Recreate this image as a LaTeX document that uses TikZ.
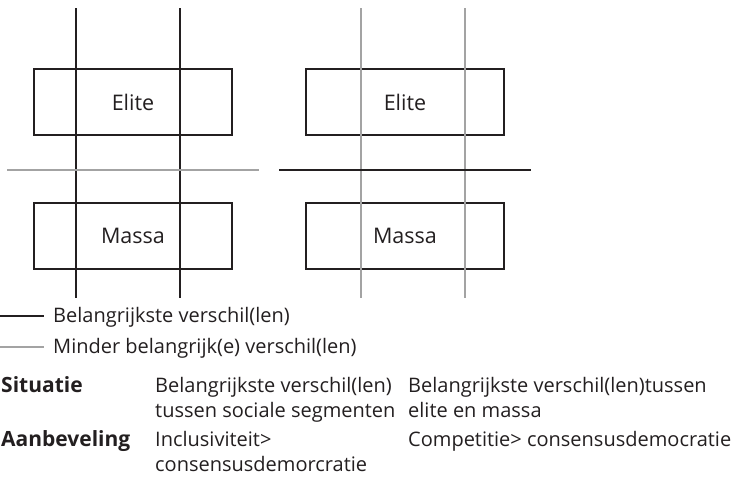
\documentclass[tikz,border=0pt]{standalone}
\usepackage{fontspec}
\setmainfont{Open Sans}
\usetikzlibrary{positioning}

\definecolor{ink}{HTML}{231F20}
\definecolor{lichtgrijs}{HTML}{A3A3A3}

\begin{document}
\begin{tikzpicture}[x=1pt,y=-1pt,
	laag/.style={draw=ink,line width=1.1pt,minimum width=198pt,minimum height=66pt,
		inner sep=0pt,font=\fontsize{21.5}{25}\selectfont,text=ink},
	hoofd/.style={draw=ink,line width=1.1pt},
	neven/.style={draw=lichtgrijs,line width=1.1pt},
	tekst/.style={anchor=base west,inner sep=0pt,font=\fontsize{20}{25}\selectfont,text=ink},
	kop/.style={tekst,font=\fontsize{21}{25}\bfseries}]
	\useasboundingbox (0,0) rectangle (734,480);
	% linkerschema
	\node[laag] (elite l) at (133,102) {Elite};
	\node[laag] (massa l) at (133,236) {Massa};
	\draw[hoofd] (76,8) -- (76,298);
	\draw[hoofd] (180,8) -- (180,298);
	\draw[neven] (7,170) -- (259,170);
	% rechterschema
	\node[laag] (elite r) at (405,102) {Elite};
	\node[laag] (massa r) at (405,236) {Massa};
	\draw[neven] (361,8) -- (361,298);
	\draw[neven] (465,8) -- (465,298);
	\draw[hoofd] (279,170) -- (531,170);
	% legenda
	\draw[hoofd] (0,316) -- (44,316) coordinate (leg1);
	\node[tekst] (leg1 txt) at (53,322) {Belangrijkste verschil(len)};
	\draw[neven] (0,347) -- (44,347) coordinate (leg2);
	\node[tekst] (leg2 txt) at (53,353) {Minder belangrijk(e) verschil(len)};
	% tabel
	\node[kop] (sit) at (1,392) {Situatie};
	\node[tekst] (sit l1) at (155,392) {Belangrijkste verschil(len)};
	\node[tekst] (sit l2) at (155,417) {tussen sociale segmenten};
	\node[tekst] (sit r1) at (408,392) {Belangrijkste verschil(len)tussen};
	\node[tekst] (sit r2) at (408,417) {elite en massa};
	\node[kop] (aanb) at (1,446) {Aanbeveling};
	\node[tekst] (aanb l1) at (155,446) {Inclusiviteit>};
	\node[tekst] (aanb l2) at (155,471) {consensusdemorcratie};
	\node[tekst] (aanb r1) at (408,446) {Competitie> consensusdemocratie};
\end{tikzpicture}
\end{document}
